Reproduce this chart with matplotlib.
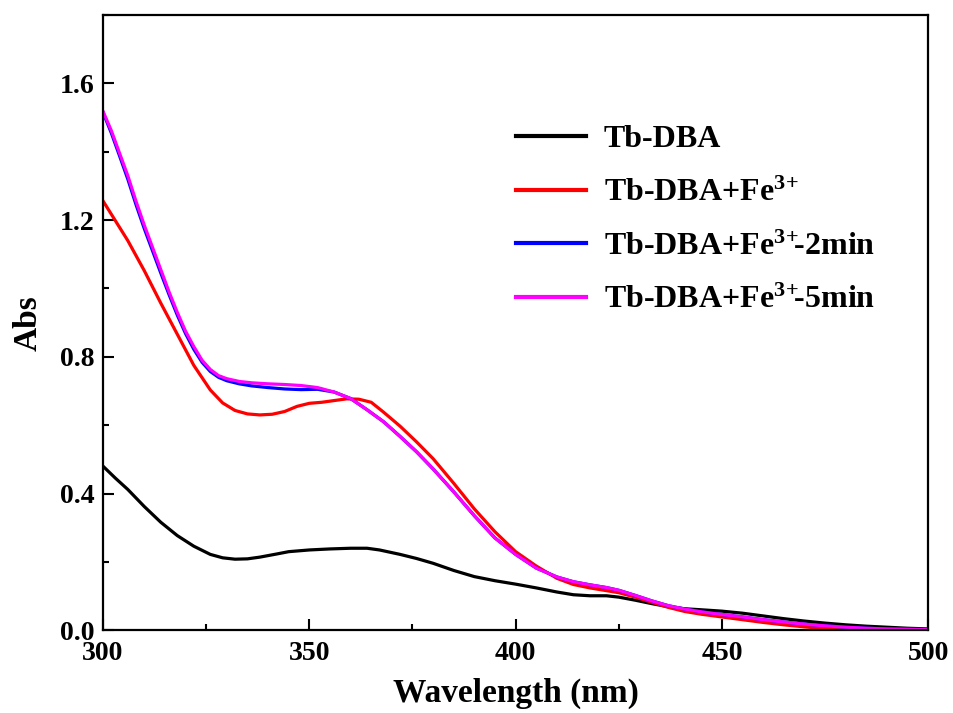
import matplotlib
matplotlib.use("Agg")
import matplotlib.pyplot as plt
from matplotlib.ticker import MultipleLocator, FormatStrFormatter

plt.rcParams['font.family'] = ['Liberation Serif', 'DejaVu Serif']
plt.rcParams['font.weight'] = 'bold'
plt.rcParams['mathtext.fontset'] = 'custom'
plt.rcParams['mathtext.rm'] = 'Liberation Serif:bold'
plt.rcParams['mathtext.bf'] = 'Liberation Serif:bold'
plt.rcParams['mathtext.it'] = 'Liberation Serif:bold'

# Tb-DBA
wl_black = [300, 303, 306, 310, 314, 318, 322, 326, 329, 332, 335, 338, 342, 345,
            350, 355, 360, 364, 367, 372, 376, 380, 385, 390, 395, 400, 405, 410,
            414, 418, 422, 425, 429, 433, 437, 441, 445, 450, 455, 460, 465, 470,
            475, 480, 485, 490, 495, 500]
abs_black = [0.480, 0.445, 0.412, 0.362, 0.316, 0.277, 0.246, 0.222, 0.212, 0.208,
             0.209, 0.214, 0.223, 0.230, 0.235, 0.238, 0.240, 0.240, 0.235, 0.222,
             0.210, 0.196, 0.175, 0.157, 0.145, 0.135, 0.124, 0.112, 0.104, 0.101,
             0.101, 0.097, 0.088, 0.078, 0.069, 0.063, 0.060, 0.056, 0.050, 0.042,
             0.034, 0.027, 0.021, 0.016, 0.012, 0.009, 0.006, 0.004]

# Tb-DBA + Fe3+
wl_red = [300, 303, 306, 310, 314, 318, 322, 326, 329, 332, 335, 338, 341, 344,
          347, 350, 353, 356, 359, 362, 365, 368, 372, 376, 380, 385, 390, 395,
          400, 405, 410, 414, 418, 422, 425, 429, 433, 437, 441, 445, 450, 455,
          460, 465, 470, 475, 480, 485, 490, 495, 500]
abs_red = [1.256, 1.198, 1.140, 1.052, 0.957, 0.866, 0.775, 0.703, 0.665, 0.643,
           0.633, 0.630, 0.632, 0.640, 0.655, 0.664, 0.667, 0.672, 0.677, 0.676,
           0.667, 0.638, 0.597, 0.551, 0.502, 0.430, 0.355, 0.288, 0.230, 0.188,
           0.152, 0.134, 0.124, 0.116, 0.110, 0.097, 0.082, 0.067, 0.055, 0.047,
           0.039, 0.031, 0.023, 0.016, 0.010, 0.005, 0.002, 0.001, 0.001, 0.001,
           0.001]

# Tb-DBA + Fe3+ - 2min
wl_blue = [300, 302, 304, 306, 308, 310, 312, 314, 316, 318, 320, 322, 324, 326,
           328, 330, 333, 336, 340, 344, 348, 352, 356, 360, 364, 368, 372, 376,
           380, 385, 390, 395, 400, 405, 410, 414, 418, 422, 425, 429, 433, 437,
           441, 445, 450, 455, 460, 465, 470, 475, 480, 485, 490, 495, 500]
abs_blue = [1.515, 1.455, 1.388, 1.320, 1.245, 1.175, 1.110, 1.045, 0.982, 0.922,
            0.868, 0.822, 0.784, 0.757, 0.740, 0.730, 0.721, 0.715, 0.710, 0.706,
            0.704, 0.705, 0.697, 0.678, 0.645, 0.610, 0.567, 0.522, 0.472, 0.405,
            0.335, 0.270, 0.222, 0.182, 0.156, 0.142, 0.133, 0.125, 0.117, 0.102,
            0.086, 0.072, 0.062, 0.054, 0.046, 0.039, 0.031, 0.024, 0.018, 0.013,
            0.009, 0.006, 0.004, 0.003, 0.002]

# Tb-DBA + Fe3+ - 5min
wl_mag = wl_blue
abs_mag = [1.518, 1.462, 1.396, 1.330, 1.255, 1.185, 1.120, 1.055, 0.990, 0.930,
           0.875, 0.830, 0.790, 0.763, 0.745, 0.736, 0.728, 0.724, 0.721, 0.719,
           0.716, 0.710, 0.697, 0.678, 0.645, 0.610, 0.567, 0.522, 0.472, 0.405,
           0.335, 0.270, 0.222, 0.182, 0.156, 0.142, 0.133, 0.125, 0.117, 0.102,
           0.086, 0.072, 0.062, 0.054, 0.046, 0.039, 0.031, 0.024, 0.018, 0.013,
           0.009, 0.006, 0.004, 0.003, 0.002]

labels = ['Tb-DBA',
          r'Tb-DBA+Fe$^{\mathbf{3\!+}}$',
          r'Tb-DBA+Fe$^{\mathbf{3\!+}}\!\!$-2min',
          r'Tb-DBA+Fe$^{\mathbf{3\!+}}\!\!$-5min']

fig = plt.figure(figsize=(9.54, 7.13), dpi=100)
ax = fig.add_axes([0.108, 0.116, 0.865, 0.863])

lw = 2.3
ax.plot(wl_black, abs_black, color='black', lw=lw, label=labels[0])
ax.plot(wl_red, abs_red, color='#ff0000', lw=lw, label=labels[1])
ax.plot(wl_blue, abs_blue, color='#0000ff', lw=lw, label=labels[2])
ax.plot(wl_mag, abs_mag, color='#ff00ff', lw=lw, label=labels[3])

ax.set_xlim(300, 500)
ax.set_ylim(0, 1.8)
ax.xaxis.set_major_locator(MultipleLocator(50))
ax.xaxis.set_minor_locator(MultipleLocator(25))
ax.yaxis.set_major_locator(MultipleLocator(0.4))
ax.yaxis.set_minor_locator(MultipleLocator(0.2))
ax.yaxis.set_major_formatter(FormatStrFormatter('%.1f'))
ax.tick_params(which='both', direction='in', top=False, right=False, width=1.5)
ax.tick_params(which='major', length=8, labelsize=20)
ax.tick_params(which='minor', length=4.5)
ax.tick_params(axis='x', pad=8)
ax.tick_params(axis='y', pad=6)
for s in ax.spines.values():
    s.set_linewidth(1.6)

ax.set_xlabel('Wavelength (nm)', fontsize=24, fontweight='bold', labelpad=8)
ax.set_ylabel('Abs', fontsize=24, fontweight='bold', labelpad=12)

leg = ax.legend(loc='upper left', bbox_to_anchor=(0.485, 0.842), frameon=False,
                fontsize=23, handlelength=2.2, handletextpad=0.55,
                labelspacing=0.76, borderaxespad=0)
for line in leg.get_lines():
    line.set_linewidth(3)

fig.savefig('out.png', dpi=100)
